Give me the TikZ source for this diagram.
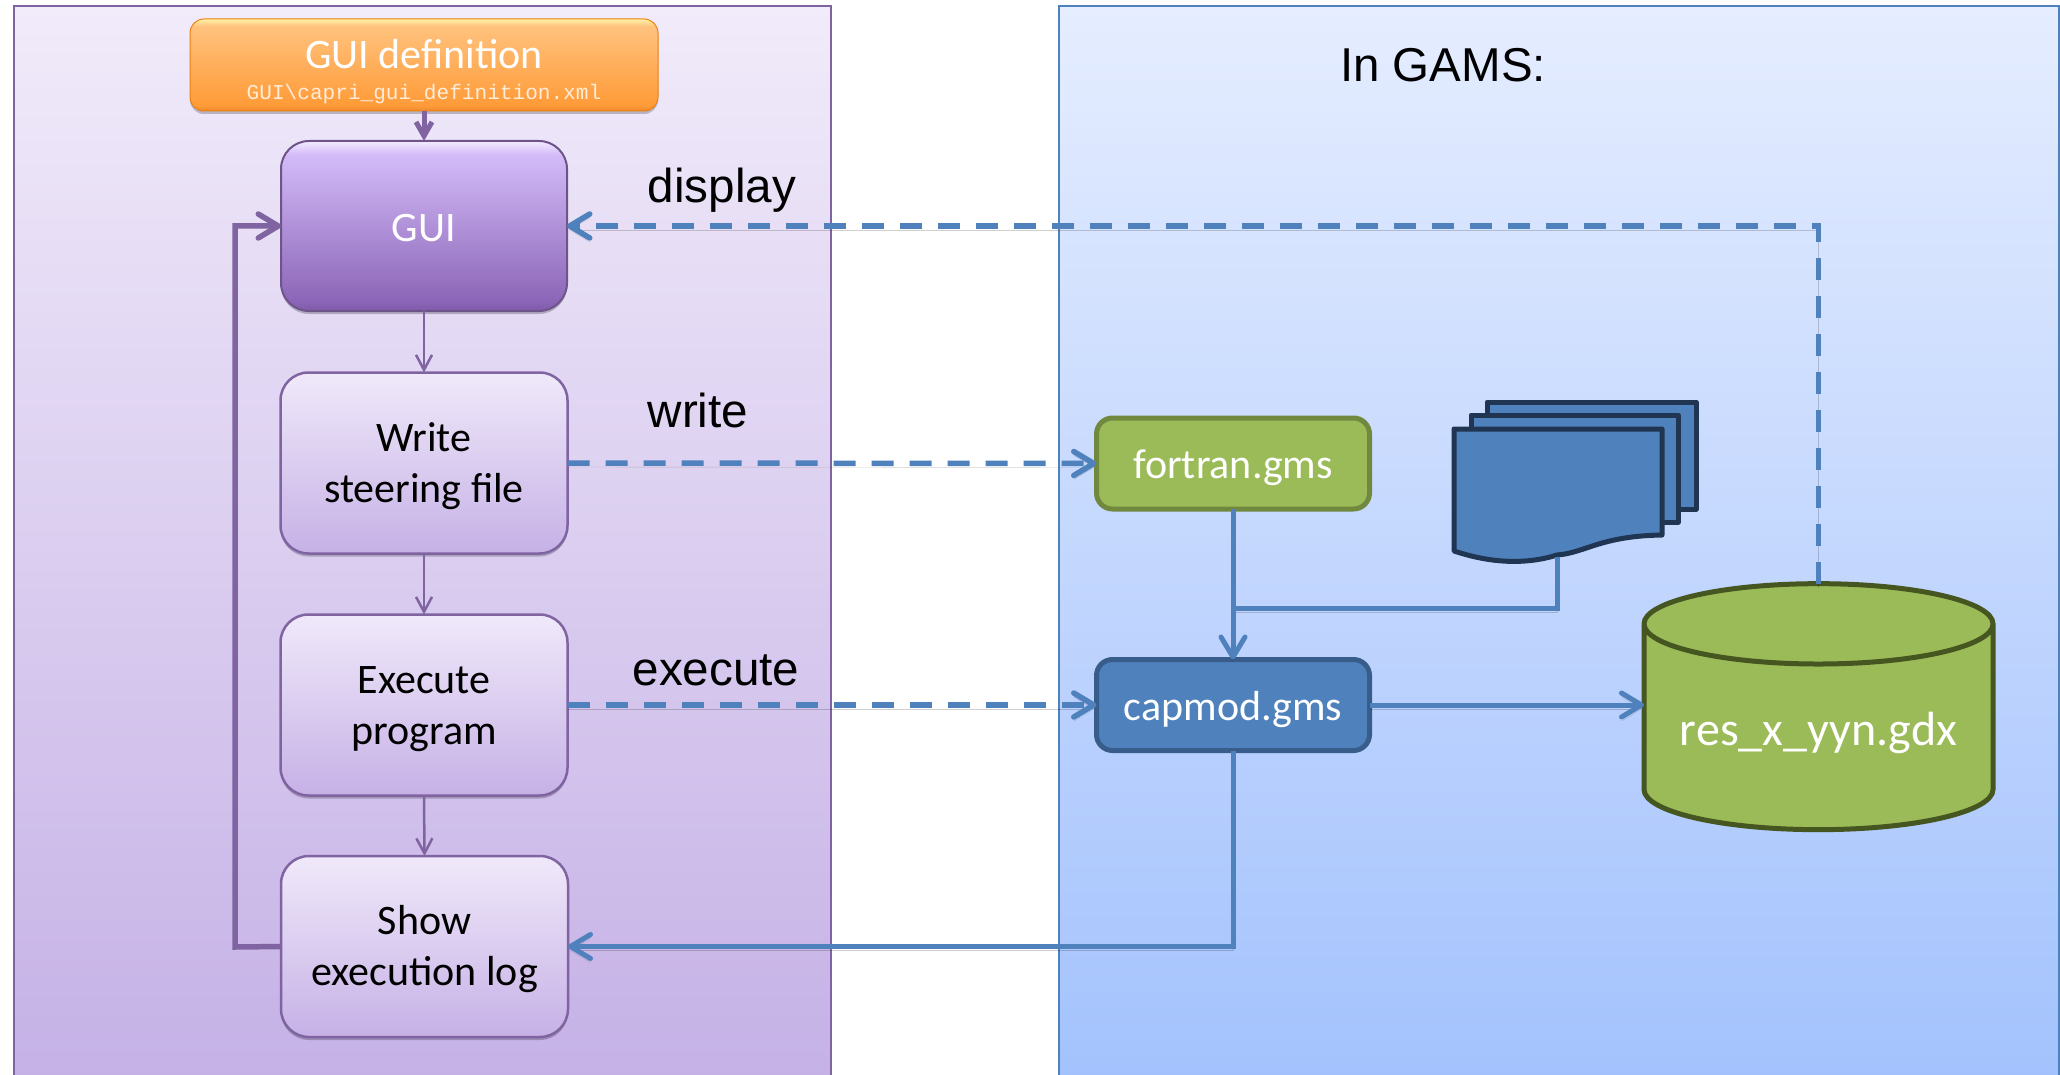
\documentclass[tikz,border=0pt]{standalone}
\usepackage{fontspec}
\setmainfont{Carlito}
\newfontfamily\arialf{Liberation Sans}
\newfontfamily\monof{Liberation Mono}
\usetikzlibrary{arrows.meta,shadows,shapes.geometric,calc}
\definecolor{pborder}{HTML}{8064A2}
\definecolor{bblue}{HTML}{4F81BD}
\definecolor{bborder}{HTML}{385D8A}
\definecolor{gfill}{HTML}{9BBB59}
\definecolor{gborder}{HTML}{71893F}
\definecolor{lpt}{HTML}{F1EBFA}\definecolor{lpb}{HTML}{C5B1E6}
\definecolor{rpt}{HTML}{E5EDFF}\definecolor{rpb}{HTML}{A3C2FD}
\definecolor{lbt}{HTML}{F0E9FA}\definecolor{lbb}{HTML}{C6B1E6}
\definecolor{docb}{HTML}{1F3552}
\definecolor{cylb}{HTML}{465620}
\definecolor{oa}{HTML}{EE8A2A}\definecolor{ob}{HTML}{FF9B38}\definecolor{oc}{HTML}{FFC27D}\definecolor{od}{HTML}{FFF3A5}
\pgfdeclareverticalshading{orangegrad}{100bp}{color(0bp)=(oa); color(25bp)=(oa); color(28bp)=(ob); color(71bp)=(oc); color(75bp)=(od); color(100bp)=(od)}
\definecolor{ga}{HTML}{7E5AA8}\definecolor{gb}{HTML}{8C66B8}\definecolor{gc}{HTML}{D3BBF8}\definecolor{gd}{HTML}{F4EBFF}
\pgfdeclareverticalshading{guigrad}{100bp}{color(0bp)=(ga); color(25bp)=(ga); color(28bp)=(gb); color(71bp)=(gc); color(75bp)=(gd); color(100bp)=(gd)}
\tikzset{
 panelL/.style={draw=pborder,line width=2pt,top color=lpt,bottom color=lpb,minimum width=817pt,minimum height=1072pt,inner sep=0pt,anchor=north west},
 panelR/.style={draw=bblue,line width=2pt,top color=rpt,bottom color=rpb,minimum width=1000pt,minimum height=1072pt,inner sep=0pt,anchor=north west},
 boxbase/.style={inner sep=0pt,outer sep=0pt,align=center,font=\fontsize{42}{51}\selectfont,drop shadow={shadow xshift=0pt,shadow yshift=-3pt,opacity=.22,fill=black}},
 lightbox/.style={boxbase,draw=pborder,line width=2.5pt,rounded corners=28pt,top color=lbt,bottom color=lbb,minimum width=287pt,minimum height=181pt,text=black,text height=86pt,text depth=8pt},
 guibox/.style={boxbase,draw=pborder!85!black,line width=2pt,rounded corners=28pt,shading=guigrad,minimum width=286pt,minimum height=170pt,text=white,text height=32pt,text depth=0pt},
 defbox/.style={boxbase,draw=orange!70!brown,line width=1pt,rounded corners=14pt,shading=orangegrad,minimum width=468pt,minimum height=92pt,text=white},
 filebox/.style={inner sep=0pt,outer sep=0pt,line width=5pt,rounded corners=16pt,minimum width=273pt,minimum height=91pt,text=white,font=\fontsize{42}{51}\selectfont,text height=38pt,text depth=8pt},
 soft/.style={preaction={draw=black,opacity=.18,transform canvas={yshift=-4pt}}},
 thinarrow/.style={draw=pborder,line width=2.5pt,-{Straight Barb[length=15pt,width=16pt]}},
 looparrow/.style={draw=pborder,line width=5.5pt,-{Straight Barb[length=20pt,width=24pt,round]}},
 blueline/.style={draw=bblue,line width=5pt,soft},
 bluearrow/.style={blueline,-{Straight Barb[length=20pt,width=24pt,round]}},
 bluedash/.style={draw=bblue,line width=5.5pt,dash pattern=on 22pt off 16pt,soft,-{Straight Barb[length=20pt,width=24pt,round]}},
 sheet/.style={draw=docb,line width=5pt,fill=bblue,line join=round},
 lbl/.style={font=\arialf\fontsize{47.6}{55}\selectfont,text=black,inner sep=0pt}
}
\begin{document}
\begin{tikzpicture}[x=1pt,y=-1pt]
\useasboundingbox (0,0) rectangle (2060,1075);
\fill[white] (0,0) rectangle (2060,1075);
\node[panelL] (pl) at (13,5.5) {};
\node[panelR] (pr) at (1058,5.5) {};
\node[lbl,font=\arialf\fontsize{47.5}{55}\selectfont] (ingams) at (1443,65) {In GAMS:};
% boxes
\node[defbox] (def) at (424,65) {};
\node[inner sep=0pt,text=white,font=\fontsize{42}{50}\selectfont] (deft) at (424,54) {GUI definition};
\node[inner sep=0pt,text=white!85!orange,font=\monof\fontsize{21.1}{25}\selectfont] (defp) at (424,94) {GUI\textbackslash capri\_gui\_definition.xml};
\node[guibox] (gui) at (424,226) {GUI};
\node[lightbox] (write) at (424,463) {Write\\steering file};
\node[lightbox] (exec) at (424,705) {Execute\\program};
\node[lightbox] (show) at (424.5,946.5) {Show\\execution log};
\node[filebox,draw=gborder,fill=gfill] (fortran) at (1233,463.5) {fortran.gms};
\node[filebox,draw=bborder,fill=bblue] (capmod) at (1233,705) {capmod.gms};
% document stack
\draw[sheet] (1487,402) -- (1696,402) -- (1696,509) -- (1487,509) -- cycle;
\draw[sheet] (1471,415) -- (1678,415) -- (1678,522) -- (1471,522) -- cycle;
\draw[sheet] (1454,429) -- (1662,429) -- (1662,535) .. controls (1600,536) and (1585,553) .. (1557,555) .. controls (1525,565) and (1490,563) .. (1454,551) -- cycle;
\coordinate (doc) at (1557,557);
% cylinder
\node[cylinder,shape border rotate=90,aspect=0.29,draw=cylb,line width=5pt,fill=gfill,minimum width=349pt,minimum height=246pt,inner sep=0pt,outer sep=0pt,text=white,font=\fontsize{48}{56}\selectfont,text height=44pt,text depth=10pt] (cyl) at (1818.5,728) {res\_x\_yyn.gdx};
% connectors
\draw[draw=pborder,line width=5pt,-{Straight Barb[length=14pt,width=16pt]}] (def.south) -- (gui.north);
\draw[thinarrow] (gui.south) -- (write.north);
\draw[thinarrow] (write.south) -- (exec.north);
\draw[thinarrow] (exec.south) -- (show.north);
\coordinate (loopx) at (235,947);
\draw[looparrow] (show.west) -- (loopx) |- (gui.west);
\draw[bluedash] (write.east) -- (fortran.west);
\draw[bluedash] (exec.east) -- (capmod.west);
\draw[bluedash] (cyl.north) |- (gui.east);
\coordinate (merge) at (1233,608);
\draw[blueline] (doc) |- (merge);
\draw[bluearrow] (fortran.south) -- (capmod.north);
\draw[bluearrow] (capmod.east) -- (cyl.west |- capmod.east);
\draw[bluearrow] (capmod.south) |- (show.east);
% labels
\node[lbl] (ldisplay) at (722,190) {display};
\node[lbl] (lwrite) at (698,410) {write};
\node[lbl] (lexec) at (716,670) {execute};
\end{tikzpicture}
\end{document}
